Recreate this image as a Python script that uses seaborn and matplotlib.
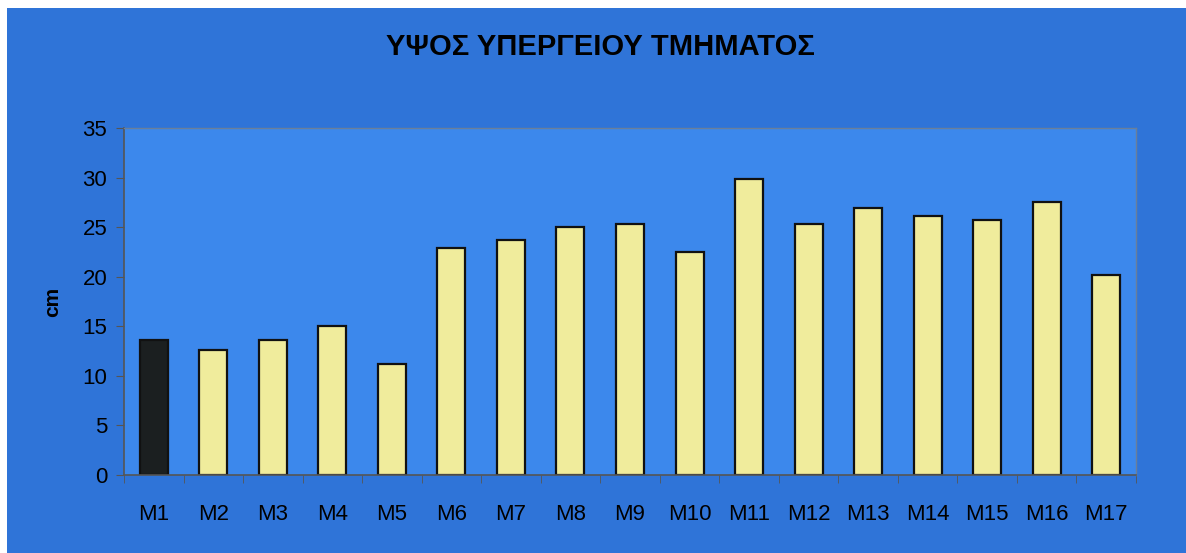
import matplotlib.pyplot as plt
import numpy as np
import pandas as pd
import seaborn as sns
from matplotlib.patches import Rectangle

categories = ["M1", "M2", "M3", "M4", "M5", "M6", "M7", "M8", "M9",
              "M10", "M11", "M12", "M13", "M14", "M15", "M16", "M17"]
heights = [13.6, 12.6, 13.6, 15.0, 11.2, 22.9, 23.7, 25.0, 25.3,
           22.5, 29.9, 25.3, 26.9, 26.1, 25.7, 27.5, 20.2]
bar_colors = ["#1b1f20"] + ["#f0ec9c"] * 16

OUTER_BLUE = "#2f74d8"
PLOT_BLUE = "#3c88ec"

sns.set_style("white")
plt.rcParams["font.family"] = ["Liberation Sans", "DejaVu Sans"]

df = pd.DataFrame({"cat": categories, "h": heights})

fig = plt.figure(figsize=(11.86, 5.53), dpi=100)
fig.patch.set_facecolor("white")
fig.patches.append(Rectangle((7 / 1186, 0), 1, (553 - 8) / 553,
                             transform=fig.transFigure, facecolor=OUTER_BLUE,
                             edgecolor="none", zorder=-10))

ax = fig.add_axes([124 / 1186, 1 - 475 / 553, (1136 - 124) / 1186, (475 - 128) / 553])
ax.set_facecolor(PLOT_BLUE)

sns.barplot(data=df, x="cat", y="h", hue="cat", palette=bar_colors, legend=False,
            width=0.47, edgecolor="#111111", linewidth=1.6, ax=ax, saturation=1)

ax.set_ylim(0, 35)
ax.set_xlim(-0.5, len(categories) - 0.5)
ax.set_yticks(np.arange(0, 36, 5))
ax.tick_params(axis="y", labelsize=16, length=6, color="#555555", pad=6, left=True,
               labelcolor="black")
ax.tick_params(axis="x", which="major", labelsize=16, length=0, pad=21, labelcolor="black")
ax.set_xticks(np.arange(-0.5, len(categories), 1), minor=True)
ax.tick_params(axis="x", which="minor", length=6, color="#555555", bottom=True)

for side in ["top", "right"]:
    ax.spines[side].set_color("#6a7f9a")
    ax.spines[side].set_linewidth(1.0)
for side in ["left", "bottom"]:
    ax.spines[side].set_color("#555555")
    ax.spines[side].set_linewidth(1.2)

ax.set_xlabel("")
ax.set_ylabel("cm", fontsize=15, fontweight="bold", labelpad=15, color="black")

fig.text(600 / 1186, 1 - 47 / 553, "ΥΨΟΣ ΥΠΕΡΓΕΙΟΥ ΤΜΗΜΑΤΟΣ", ha="center", va="center",
         fontsize=21, fontweight="bold", color="black")

fig.savefig("out.png", dpi=100, facecolor=fig.get_facecolor())
